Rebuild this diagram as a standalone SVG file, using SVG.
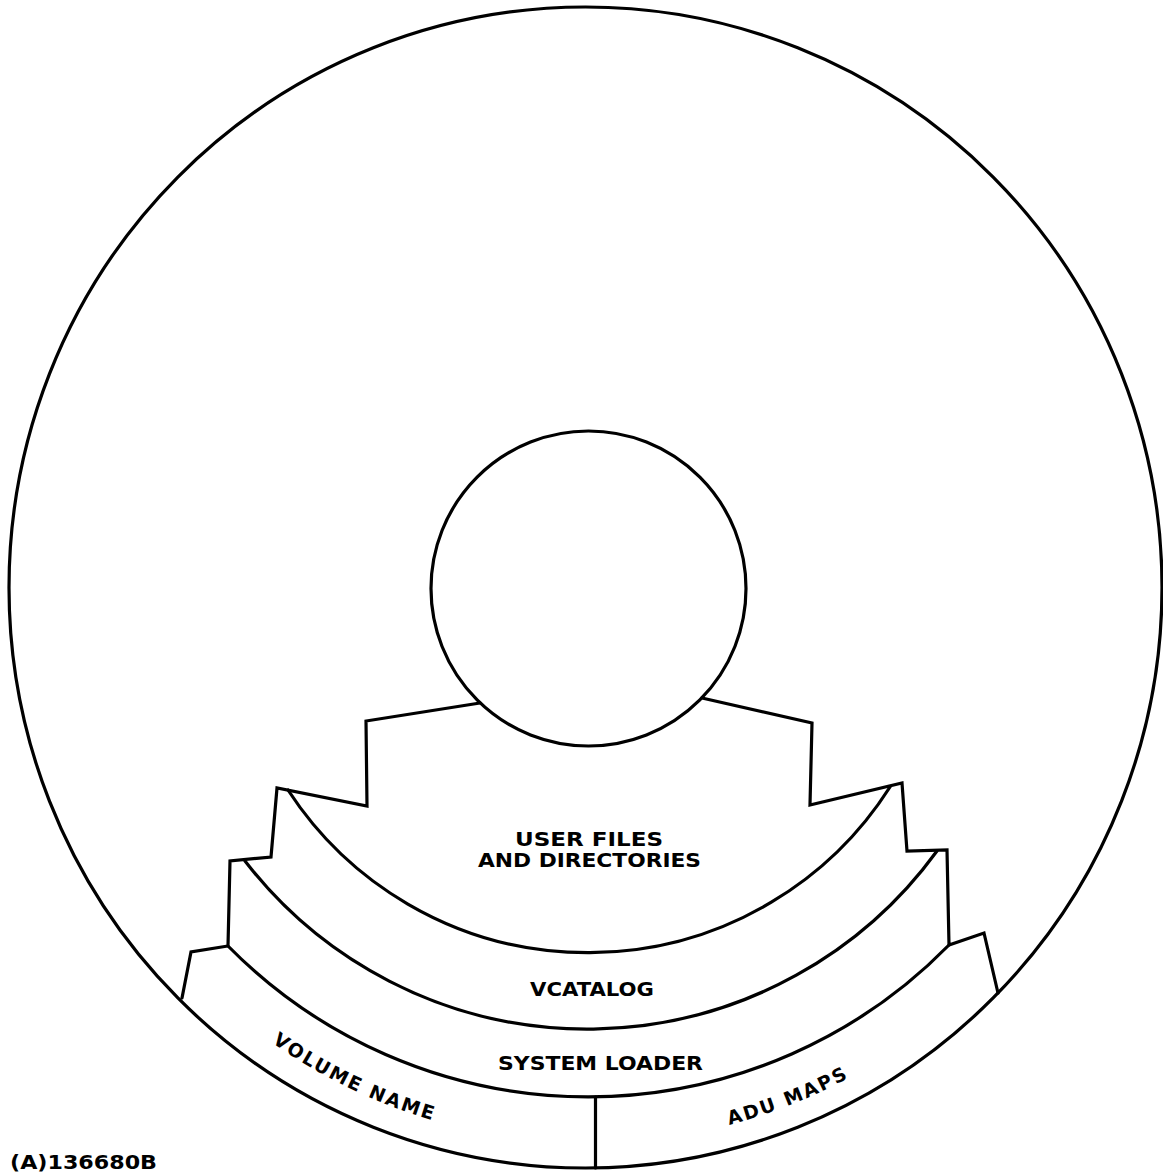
<svg xmlns="http://www.w3.org/2000/svg" width="1163" height="1173" viewBox="0 0 1163 1173">
<style>
.ln{fill:none;stroke:#000;stroke-width:3.2;stroke-linejoin:miter;stroke-linecap:round}
.tx{font-family:"DejaVu Sans","Liberation Sans",sans-serif;font-size:19px;fill:#000;font-weight:bold}
</style>
<rect width="1163" height="1173" fill="#fff"/>
<g id="disk">
<ellipse class="ln" cx="585.5" cy="587.5" rx="576.5" ry="580.5"/>
</g>
<g id="hub">
<circle class="ln" cx="588.5" cy="588.5" r="157.5"/>
</g>
<g id="connectors">
<polyline class="ln" points="480,703 366,721 367,806 277,788 271,857 230,861 228,946 191,952 182,998"/>
<polyline class="ln" points="702,698 812,723 810,805 902,783 907,851 947,850 949,945 984,933 998,993"/>
<path class="ln" d="M 288 790 A 358 358 0 0 0 890 787"/>
<path class="ln" d="M 245 861 A 432.5 432.5 0 0 0 937 851"/>
<path class="ln" d="M 228 946 A 505 505 0 0 0 949 945"/>
<line class="ln" x1="595.5" y1="1097" x2="595.5" y2="1168"/>
</g>
<defs>
<path id="volPath" d="M 199.4 981.6 A 551 551 0 0 0 526.6 1139.5"/>
<path id="aduPath" d="M 608.2 1142.7 A 551 551 0 0 0 950.5 1007.8"/>
</defs>
<g id="user-files">
<text class="tx" x="515" y="846" textLength="148" lengthAdjust="spacingAndGlyphs">USER FILES</text>
<text class="tx" x="478" y="866.5" textLength="223" lengthAdjust="spacingAndGlyphs">AND DIRECTORIES</text>
</g>
<g id="vcatalog">
<text class="tx" x="530" y="996" textLength="124" lengthAdjust="spacingAndGlyphs">VCATALOG</text>
</g>
<g id="system-loader">
<text class="tx" x="498" y="1070" textLength="205" lengthAdjust="spacingAndGlyphs">SYSTEM LOADER</text>
</g>
<g id="volume-name">
<text class="tx" letter-spacing="2"><textPath href="#volPath" startOffset="50%" text-anchor="middle">VOLUME NAME</textPath></text>
</g>
<g id="adu-maps">
<text class="tx" letter-spacing="2"><textPath href="#aduPath" startOffset="50%" text-anchor="middle">ADU MAPS</textPath></text>
</g>
<g id="figure-id">
<text class="tx" x="10" y="1169" font-size="18" textLength="147" lengthAdjust="spacingAndGlyphs">(A)136680B</text>
</g>
</svg>
